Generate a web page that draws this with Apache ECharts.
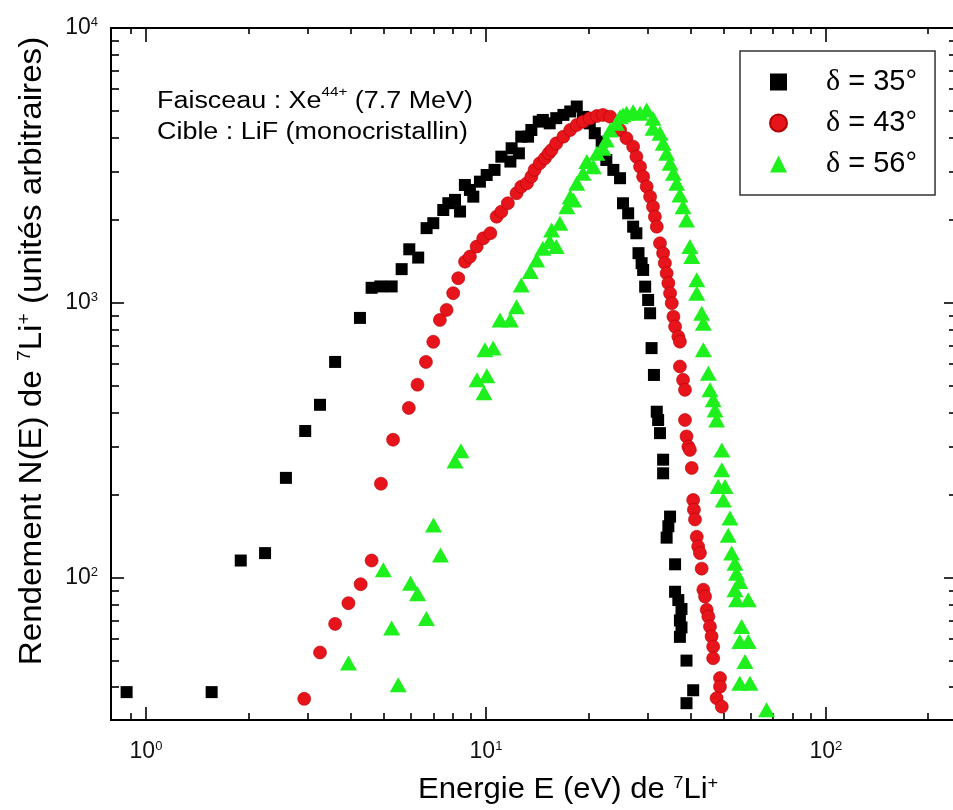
<!DOCTYPE html>
<html><head><meta charset="utf-8">
<script src="https://cdn.jsdelivr.net/npm/echarts@6/dist/echarts.min.js"></script>
<style>html,body{margin:0;padding:0;background:#fff;overflow:hidden}#c{width:953px;height:810px}</style>
</head><body><div id="c"></div>
<script>
// ---- data ----
const energy35 = [0.877,1.56,1.90,2.24,2.58,2.94,3.25,3.60,4.26,4.61,4.89,5.28,5.65,5.95,6.32,6.69,7.0,7.49,7.75,8.11,8.39,8.67,8.97,9.18,9.6,10.05,10.6,11.1,11.8,11.9,12.5,12.7,13.3,13.6,14.3,14.7,15.4,16.1,16.9,17.7,18.5,19.3,20.2,20.9,21.9,22.6,23.7,24.8,25.3,26.2,27.1,27.7,28.1,28.7,29.0,29.4,30.0,30.4,30.7,31.2,31.8,32.1,32.5,33.2,33.2,34.8,34.4,34.0,36.0,36.0,36.8,37.6,37.2,37.6,37.2,38.9,40.7,38.9];
const yield35  = [38.4,38.4,115.6,123,231,342,426,610,882,1135,1148,1148,1327,1567,1462,1871,1950,2178,2305,2370,2150,2685,2576,2435,2761,2920,3047,3404,3267,3652,3500,4025,4025,4256,4565,4630,4500,4700,4830,4970,5180,4750,4500,4143,3860,3311,3047,2842,2304,2118,1894,1792,1517,1395,1318,1146,1025,917,685,547,402,375,336,269,240,167,154,140,112,89,83,77,70,66,61,50,39,35];

const energy43 = [2.92,3.25,3.60,3.94,4.28,4.61,4.91,5.33,5.93,6.29,6.66,7.0,7.32,7.66,8.01,8.29,8.68,8.97,9.39,9.82,10.3,10.75,11.1,11.6,12.3,12.7,13.2,13.6,13.9,14.4,14.9,15.3,15.6,16.1,16.9,17.7,18.5,19.3,20.2,21.2,22.1,23.2,24.8,25.9,27.1,27.7,28.4,29.0,29.7,30.4,31.0,31.4,31.8,32.5,33.2,33.6,34.0,34.4,34.8,35.2,35.6,36.0,36.8,37.2,37.2,38.0,38.5,38.5,38.9,39.4,39.8,40.3,40.7,40.9,41.2,41.7,42.1,42.6,43.1,43.6,44.1,44.6,45.1,45.6,46.1,46.6,46.6,48.8,48.8,47.7,49.4];
const yield43  = [36.3,53.5,68.0,80.9,94.8,115.6,220,318,415,504,610,722,867,943,1085,1230,1413,1474,1603,1718,1792,2059,2148,2305,2506,2648,2724,2879,3047,3221,3359,3502,3600,3806,4025,4256,4440,4564,4693,4786,4827,4757,4256,3971,3702,3404,3130,2879,2648,2434,2239,2059,1894,1648,1517,1395,1282,1180,1084,998,891,820,754,723,587,525,483,375,327,300,292,251,192,177,163,141,130,123,108,90.5,85.5,76.5,72.3,66.5,61.2,56.2,51.0,43.2,40.2,36.5,34.0];

const energy56 = [3.94,4.99,5.28,5.52,6.0,6.29,6.68,7.01,7.35,8.11,8.44,9.41,9.87,10.06,9.93,10.5,11.0,11.8,12.3,12.7,13.5,14.1,14.7,15.4,16.1,15.6,16.5,17.3,17.7,18.1,18.5,19.3,19.8,20.7,21.2,22.1,22.6,23.2,24.2,25.3,24.8,25.9,27.1,28.4,29.7,31.0,31.0,32.5,33.2,34.0,34.8,35.6,36.4,37.2,38.0,38.9,39.8,40.3,41.7,41.7,43.1,43.6,43.6,45.1,45.6,46.6,47.2,47.7,49.4,49.4,48.2,50.5,49.9,52.2,51.6,52.8,54.0,54.6,55.8,54.0,54.6,59.1,56.5,55.8,59.1,57.8,55.8,59.8,66.9];
const yield56  = [49.0,107,65.7,40.8,95.5,87.5,71.1,155.5,121,266,290,525,471,543,675,686,867,867,969,1162,1300,1434,1581,1671,1603,1842,1950,2239,2434,2368,2724,2962,3266,3130,3502,3651,3914,4256,4502,4827,4757,4898,4962,4898,5035,4693,4318,4143,3806,3502,3221,2962,2724,2470,2239,2004,1603,1474,1213,1084,917,844,675,555,483,444,408,375,292,247,215,215,192,165,143,123,113,104,97,90.5,83.2,83.2,66.5,58.7,58.7,49.6,41.4,41.4,33.1];

const seriesNames = ['δ = 35°', 'δ = 43°', 'δ = 56°'];
const xMajorTicks = [1, 10, 100];
const xMinorTicks = [0.9, 2, 3, 4, 5, 6, 7, 8, 9, 20, 30, 40, 50, 60, 70, 80, 90, 200];
const yMajorTicks = [100, 1000, 10000];
const yMinorTicks = [40, 50, 60, 70, 80, 90, 200, 300, 400, 500, 600, 700, 800, 900, 2000, 3000, 4000, 5000, 6000, 7000, 8000, 9000];
const xRange = [0.789, 243];
const yRange = [30.4, 10000];

// ---- chart ----
const FONT = "'Liberation Sans', Arial, sans-serif";
const zip = (a, b) => a.map((v, i) => [v, b[i]]);
const lg = Math.log10;

function tickAxis(kind, pos, ticks, len, withLabels) {
  const range = kind === 'x' ? xRange : yRange;
  const ax = {
    type: 'value', position: pos, offset: 0, min: lg(range[0]), max: lg(range[1]),
    axisLine: { show: false, onZero: false }, splitLine: { show: false },
    axisTick: { show: true, inside: true, length: len, customValues: ticks.map(lg),
      lineStyle: { color: '#000', width: 1.6 } },
    axisLabel: { show: false }
  };
  if (withLabels) {
    ax.axisLabel = {
      show: true, customValues: ticks.map(lg), margin: kind === 'x' ? 20 : 13,
      formatter: v => '{b|10}{s|' + Math.round(v) + '}',
      rich: {
        b: { fontSize: 23, fontFamily: FONT, color: '#111', lineHeight: 24 },
        s: { fontSize: 13, fontFamily: FONT, color: '#111', lineHeight: 13, verticalAlign: 'top' }
      }
    };
  }
  return ax;
}

const chart = echarts.init(document.getElementById('c'), null, { renderer: 'canvas' });
chart.setOption({
  animation: false,
  backgroundColor: '#fff',
  grid: { left: 111, top: 28, width: 846, height: 692, outerBoundsMode: 'none', containLabel: false,
    show: true, borderColor: '#000', borderWidth: 2, backgroundColor: 'transparent' },
  xAxis: [
    { type: 'log', logBase: 10, min: xRange[0], max: xRange[1], position: 'bottom',
      axisLine: { show: false, onZero: false }, axisTick: { show: false }, axisLabel: { show: false }, splitLine: { show: false } },
    tickAxis('x', 'bottom', xMajorTicks, 13, true),
    tickAxis('x', 'bottom', xMinorTicks, 7, false),
    tickAxis('x', 'top', xMajorTicks, 14, false),
    tickAxis('x', 'top', xMinorTicks, 6, false)
  ],
  yAxis: [
    { type: 'log', logBase: 10, min: yRange[0], max: yRange[1], position: 'left',
      axisLine: { show: false, onZero: false }, axisTick: { show: false }, axisLabel: { show: false }, splitLine: { show: false } },
    tickAxis('y', 'left', yMajorTicks, 13, true),
    tickAxis('y', 'left', yMinorTicks, 8, false),
    tickAxis('y', 'right', yMajorTicks, 13, false),
    tickAxis('y', 'right', yMinorTicks, 8, false)
  ],
  legend: {
    orient: 'vertical', left: 740, top: 51, padding: [16, 18, 16, 29], itemGap: 11,
    itemWidth: 17, itemHeight: 17, borderColor: '#333', borderWidth: 1.5, backgroundColor: '#fff',
    data: seriesNames,
    formatter: n => '{d|' + n[0] + '}{t|' + n.slice(1) + '}',
    textStyle: { padding: [0, 0, 0, 34], color: '#000',
      rich: { d: { fontSize: 30, fontFamily: "'Liberation Serif', serif", color: '#000' },
              t: { fontSize: 29, fontFamily: FONT, color: '#000' } } }
  },
  series: [
    { name: seriesNames[0], type: 'scatter', xAxisIndex: 0, yAxisIndex: 0, symbol: 'rect', symbolSize: 12,
      itemStyle: { color: '#000', opacity: 1 }, data: zip(energy35, yield35) },
    { name: seriesNames[1], type: 'scatter', xAxisIndex: 0, yAxisIndex: 0, symbol: 'circle', symbolSize: 13,
      itemStyle: { color: '#e8141c', borderColor: '#b00000', borderWidth: 0.6, opacity: 1 }, data: zip(energy43, yield43) },
    { name: seriesNames[2], type: 'scatter', xAxisIndex: 0, yAxisIndex: 0, symbol: 'triangle', symbolSize: [17, 15],
      itemStyle: { color: '#1ef01e', opacity: 1 }, data: zip(energy56, yield56) }
  ],
  graphic: [
    { type: 'text', x: 157, y: 86, scaleX: 1.17, style: {
        text: '{a|Faisceau : Xe}{s|44+}{a| (7.7 MeV)}\n{a|Cible : LiF (monocristallin)}',
        fill: '#000', rich: {
          a: { fontSize: 23, fontFamily: FONT, lineHeight: 31, fill: '#000' },
          s: { fontSize: 13, fontFamily: FONT, lineHeight: 13, verticalAlign: 'top', fill: '#000' } } } },
    { type: 'text', x: 418, y: 790, scaleX: 1.07, style: {
        text: '{a|Energie E (eV) de }{s|7}{a|Li}{s|+}', align: 'left', verticalAlign: 'middle', fill: '#000',
        rich: {
          a: { fontSize: 29, fontFamily: FONT, lineHeight: 30, fill: '#000' },
          s: { fontSize: 17, fontFamily: FONT, lineHeight: 17, verticalAlign: 'top', fill: '#000' } } } },
    { type: 'text', x: 32, y: 351, rotation: Math.PI / 2, scaleX: 1.07, style: {
        text: '{a|Rendement N(E) de }{s|7}{a|Li}{s|+}{a| (unités arbitraires)}', align: 'center', verticalAlign: 'middle', fill: '#000',
        rich: {
          a: { fontSize: 31, fontFamily: FONT, lineHeight: 32, fill: '#000' },
          s: { fontSize: 18, fontFamily: FONT, lineHeight: 18, verticalAlign: 'top', fill: '#000' } } } }
  ]
});
</script></body></html>
